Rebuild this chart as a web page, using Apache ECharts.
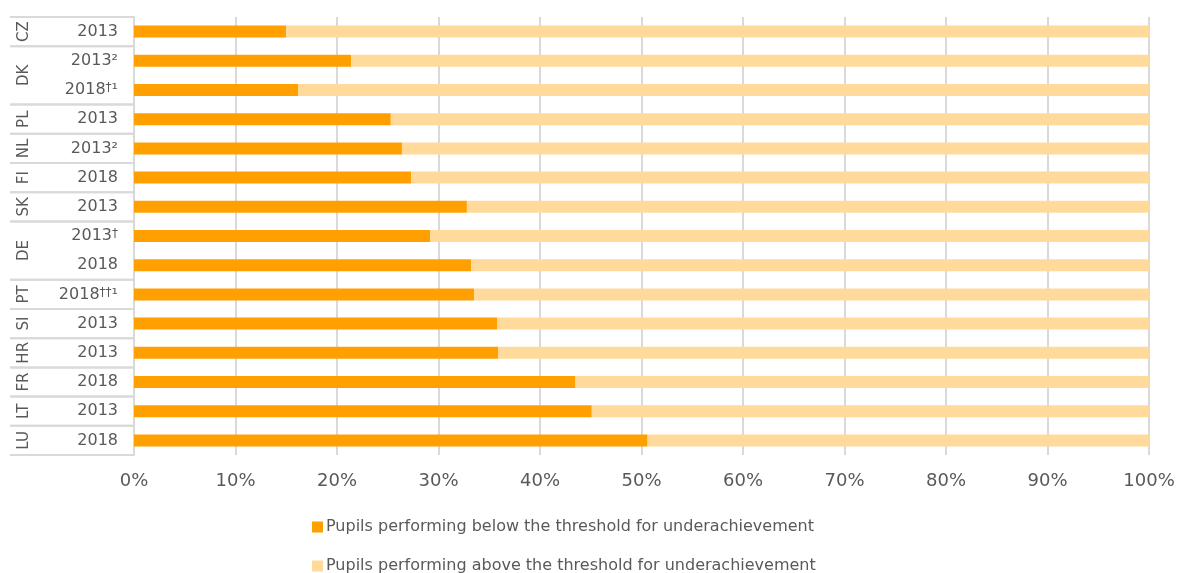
<!DOCTYPE html>
<html>
<head>
<meta charset="utf-8">
<script src="https://cdn.jsdelivr.net/npm/echarts@6/dist/echarts.min.js"></script>
<style>html,body{margin:0;padding:0;background:#fff}#c{width:1179px;height:573px}</style>
</head>
<body>
<div id="c"></div>
<script>
var countries = ['CZ','DK','DK','PL','NL','FI','SK','DE','DE','PT','SI','HR','FR','LT','LU'];
var years = ['2013','2013²','2018†¹','2013','2013²','2018','2013','2013†','2018','2018††¹','2013','2013','2018','2013','2018'];
var below = [15.0,21.4,16.2,25.3,26.4,27.3,32.8,29.2,33.2,33.5,35.8,35.9,43.5,45.1,50.6];
var above = [85.0,78.6,83.8,74.7,73.6,72.7,67.2,70.8,66.8,66.5,64.2,64.1,56.5,54.9,49.4];
var xTicks = [0,10,20,30,40,50,60,70,80,90,100];
var seriesNames = ['Pupils performing below the threshold for underachievement','Pupils performing above the threshold for underachievement'];

var FONT = 'DejaVu Sans';
var TXT = '#595959';
var GRID_C = '#d9d9d9';

// build country groups (runs of consecutive identical country codes)
var groups = [];
countries.forEach(function (c, i) {
  var last = groups[groups.length - 1];
  if (last && last.name === c) { last.end = i + 1; }
  else groups.push({name: c, start: i, end: i + 1});
});

function yearFmt(v) {
  var m = v.match(/^(\d{4})(.*)$/);
  var out = '{a|' + m[1] + '}';
  for (var i = 0; i < m[2].length; i++) {
    var ch = m[2][i];
    out += ch === '†' ? '{d|†}' : '{a|' + ch + '}';
  }
  return out;
}

function legendFor(name, top) {
  return {
    data: [name],
    left: 312,
    top: top,
    itemWidth: 11,
    itemHeight: 11,
    itemGap: 0,
    icon: 'rect',
    selectedMode: false,
    padding: 0,
    textStyle: {fontFamily: FONT, fontSize: 16, color: TXT, lineHeight: 20, padding: [0,0,0,-2]}
  };
}

var chart = echarts.init(document.getElementById('c'));
chart.setOption({
  animation: false,
  color: ['#FFA000', '#FFDA9B'],
  grid: [
    {left: 134, right: 30, top: 17, bottom: 118},
    {left: 10, width: 124, top: 17, bottom: 118}
  ],
  legend: [legendFor(seriesNames[0], 517), legendFor(seriesNames[1], 556)],
  xAxis: [
    {
      type: 'value', gridIndex: 0, min: 0, max: 100, interval: 10,
      axisLine: {show: false}, axisTick: {show: false},
      splitLine: {show: true, lineStyle: {color: GRID_C, width: 2}},
      axisLabel: {formatter: '{value}%', fontFamily: FONT, fontSize: 18, color: TXT, margin: 17,
        customValues: xTicks}
    },
    {type: 'value', gridIndex: 1, min: 0, max: 1, show: false}
  ],
  yAxis: [
    {
      type: 'category', gridIndex: 0, data: years, inverse: true,
      axisLine: {show: true, lineStyle: {color: GRID_C, width: 2}},
      axisTick: {show: false},
      splitLine: {show: false},
      axisLabel: {
        margin: 16, formatter: yearFmt,
        rich: {
          a: {fontFamily: FONT, fontSize: 16, color: TXT},
          d: {fontFamily: FONT, fontSize: 12, color: TXT, verticalAlign: 'top'}
        }
      }
    },
    {type: 'value', gridIndex: 1, min: 0, max: 15, inverse: true, show: false}
  ],
  series: [
    {name: seriesNames[0], type: 'bar', stack: 's', data: below, barWidth: 12, xAxisIndex: 0, yAxisIndex: 0},
    {name: seriesNames[1], type: 'bar', stack: 's', data: above, barWidth: 12, xAxisIndex: 0, yAxisIndex: 0},
    {
      type: 'custom', xAxisIndex: 1, yAxisIndex: 1, silent: true, clip: false,
      data: groups.map(function (g) { return [g.start, g.end]; }),
      renderItem: function (params, api) {
        var g = groups[params.dataIndex];
        var pTop = api.coord([0, api.value(0)]);
        var pBot = api.coord([1, api.value(1)]);
        var mid = api.coord([0.11, (api.value(0) + api.value(1)) / 2]);
        var ls = {stroke: GRID_C, lineWidth: 2};
        return {
          type: 'group',
          children: [
            {type: 'line', shape: {x1: pTop[0], y1: pTop[1], x2: pBot[0], y2: pTop[1]}, style: ls},
            {type: 'line', shape: {x1: pTop[0], y1: pBot[1], x2: pBot[0], y2: pBot[1]}, style: ls},
            {type: 'text', x: mid[0], y: mid[1], rotation: Math.PI / 2,
              style: {text: g.name, fontFamily: FONT, fontSize: 15, fill: TXT, align: 'center', verticalAlign: 'middle'}}
          ]
        };
      }
    }
  ]
});
</script>
</body>
</html>
